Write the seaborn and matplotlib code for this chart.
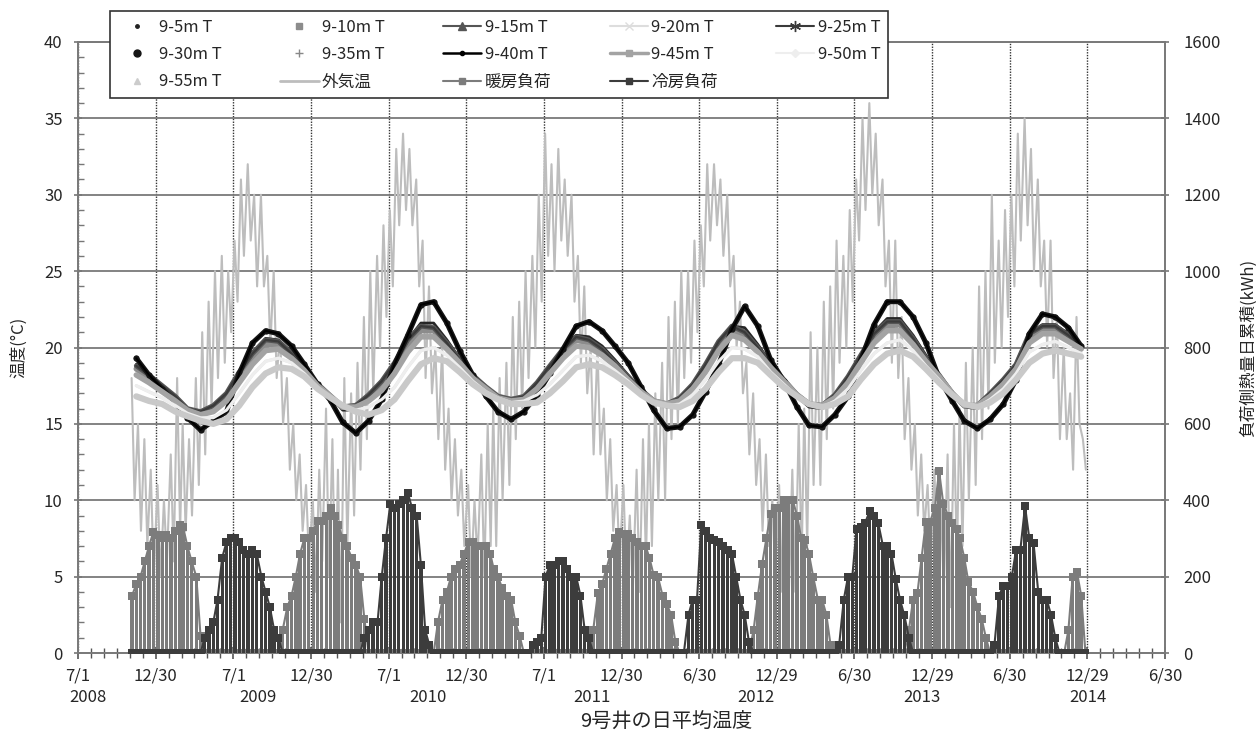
import pandas as pd
import matplotlib
matplotlib.use("Agg")
import matplotlib.pyplot as plt
import matplotlib.dates as mdates
from matplotlib.ticker import FixedLocator, MultipleLocator
from matplotlib.lines import Line2D
import seaborn as sns

sns.set_theme(style="white")
plt.rcParams['font.family'] = ['Noto Sans CJK JP', 'DejaVu Sans']
plt.rcParams['axes.unicode_minus'] = False

# ------------------------------------------------------------------ data
first_month = "2008-11-01"
n_months = 74          # Nov 2008 .. Dec 2014 (monthly well readings)

# well temperature profiles (deg C, monthly, Nov 2008 .. Dec 2014)
well_black = [19.3, 18.2,
              17.3, 16.4, 15.4, 14.6, 15.2, 15.8, 18.3, 20.3, 21.1, 20.9, 20.1, 18.9,
              17.6, 16.5, 15.1, 14.4, 15.2, 16.6, 18.9, 20.8, 22.8, 23.0, 21.6, 19.8,
              18.2, 16.8, 15.8, 15.3, 15.8, 16.9, 18.3, 19.9, 21.4, 21.7, 21.1, 20.1,
              19.0, 17.4, 15.9, 14.7, 14.8, 15.6, 17.1, 18.9, 21.2, 22.7, 21.4, 19.2,
              17.8, 16.1, 14.9, 14.8, 15.6, 16.8, 19.2, 21.5, 23.0, 23.0, 22.0, 20.3,
              18.0, 16.5, 15.2, 14.7, 15.3, 16.3, 17.9, 20.9, 22.2, 22.0, 21.3, 20.1]
well_dark_hi = [18.9, 18.2,
                17.5, 16.7, 15.9, 15.6, 16.0, 16.8, 18.4, 19.7, 20.6, 20.5, 19.7, 18.6,
                17.6, 16.8, 15.9, 15.9, 16.6, 17.6, 19.0, 20.5, 21.6, 21.6, 20.5, 19.3,
                18.2, 17.3, 16.6, 16.4, 16.7, 17.6, 18.7, 19.9, 20.8, 20.7, 20.1, 19.2,
                18.2, 17.2, 16.4, 16.1, 16.4, 17.3, 18.6, 20.2, 21.4, 21.3, 20.2, 19.0,
                17.9, 16.8, 16.1, 16.0, 16.7, 17.9, 19.5, 21.0, 21.9, 21.9, 20.8, 19.5,
                18.2, 16.9, 16.1, 16.0, 16.7, 17.7, 18.8, 20.9, 21.5, 21.5, 20.9, 20.1]
well_dark = [18.8, 18.2,
             17.5, 16.8, 16.0, 15.8, 16.2, 17.0, 18.4, 19.6, 20.5, 20.4, 19.6, 18.6,
             17.6, 16.8, 16.1, 16.2, 16.9, 17.8, 19.0, 20.5, 21.4, 21.3, 20.3, 19.2,
             18.2, 17.4, 16.8, 16.6, 16.8, 17.7, 18.8, 19.9, 20.7, 20.5, 19.9, 19.0,
             18.1, 17.2, 16.5, 16.3, 16.7, 17.6, 18.9, 20.4, 21.4, 21.0, 20.0, 18.9,
             17.9, 16.9, 16.3, 16.2, 16.9, 18.1, 19.5, 20.9, 21.7, 21.7, 20.6, 19.3,
             18.2, 17.0, 16.2, 16.2, 17.0, 17.9, 18.9, 20.9, 21.4, 21.4, 20.8, 20.1]
well_dark_lo = [18.6, 18.0,
                17.4, 16.7, 15.9, 15.7, 16.1, 16.8, 18.1, 19.3, 20.2, 20.2, 19.5, 18.5,
                17.6, 16.8, 16.1, 16.2, 16.7, 17.6, 18.7, 20.2, 21.1, 21.1, 20.2, 19.1,
                18.1, 17.4, 16.8, 16.6, 16.7, 17.5, 18.6, 19.6, 20.5, 20.3, 19.8, 18.9,
                18.0, 17.2, 16.5, 16.3, 16.6, 17.5, 18.7, 20.2, 21.1, 20.8, 19.9, 18.8,
                17.8, 16.9, 16.3, 16.2, 16.8, 17.9, 19.3, 20.7, 21.4, 21.5, 20.5, 19.2,
                18.1, 17.0, 16.2, 16.2, 16.9, 17.8, 18.8, 20.7, 21.2, 21.2, 20.7, 20.0]
well_mid = [18.2, 17.7,
            17.1, 16.5, 15.9, 15.6, 15.8, 16.5, 17.7, 18.9, 19.8, 19.9, 19.3, 18.5,
            17.5, 16.8, 16.1, 16.1, 16.5, 17.2, 18.3, 19.7, 20.7, 20.7, 19.9, 19.0,
            18.0, 17.3, 16.7, 16.5, 16.6, 17.3, 18.3, 19.3, 20.1, 20.0, 19.5, 18.8,
            17.9, 17.1, 16.5, 16.3, 16.5, 17.3, 18.4, 19.8, 20.8, 20.5, 19.7, 18.7,
            17.8, 16.9, 16.3, 16.2, 16.7, 17.7, 19.0, 20.3, 21.1, 21.1, 20.2, 19.1,
            18.1, 17.0, 16.2, 16.2, 16.8, 17.6, 18.6, 20.3, 20.9, 20.9, 20.4, 19.9]
well_light = [17.5, 17.1,
              16.7, 16.2, 15.7, 15.4, 15.4, 15.9, 17.0, 18.2, 19.1, 19.3, 19.0, 18.3,
              17.4, 16.7, 16.2, 15.9, 16.1, 16.6, 17.4, 18.7, 19.8, 20.0, 19.5, 18.7,
              17.8, 17.1, 16.7, 16.4, 16.5, 16.9, 17.6, 18.5, 19.4, 19.5, 19.1, 18.5,
              17.8, 17.0, 16.4, 16.2, 16.3, 16.9, 17.9, 19.1, 20.0, 19.9, 19.4, 18.4,
              17.6, 16.8, 16.3, 16.1, 16.5, 17.3, 18.5, 19.6, 20.3, 20.5, 19.8, 18.8,
              17.9, 16.9, 16.3, 16.1, 16.6, 17.3, 18.3, 19.7, 20.2, 20.4, 20.0, 19.6]
well_pale = [16.8, 16.5,
             16.3, 15.8, 15.5, 15.2, 15.0, 15.3, 16.2, 17.4, 18.3, 18.7, 18.6, 18.1,
             17.3, 16.7, 16.2, 15.8, 15.6, 15.9, 16.6, 17.8, 18.9, 19.3, 19.1, 18.4,
             17.6, 17.0, 16.6, 16.3, 16.3, 16.4, 17.0, 17.8, 18.7, 18.9, 18.7, 18.2,
             17.6, 16.9, 16.4, 16.2, 16.1, 16.5, 17.3, 18.4, 19.3, 19.3, 19.0, 18.2,
             17.4, 16.8, 16.3, 16.1, 16.3, 16.8, 17.9, 18.9, 19.6, 19.8, 19.4, 18.6,
             17.7, 16.9, 16.3, 16.1, 16.4, 17.0, 17.9, 19.0, 19.6, 19.8, 19.6, 19.4]

well_labels = ['9-5m T', '9-10m T', '9-15m T', '9-20m T', '9-25m T', '9-30m T',
               '9-35m T', '9-40m T', '9-45m T', '9-50m T', '9-55m T']
well_profiles = [well_dark_hi, well_dark_lo, well_dark, well_light, well_dark, well_black,
                 well_mid, well_black, well_mid, well_light, well_pale]

# outdoor air temperature (deg C): four readings per month
outdoor_temp = [18, 10, 15, 8, 14, 7, 12, 5,
                11, 5, 10, 6, 13, 6, 18, 8, 15, 8, 14, 9, 18, 11, 21, 13,
                23, 16, 25, 18, 26, 19, 25, 21, 27, 23, 31, 26, 32, 27, 30, 24,
                30, 24, 26, 20, 25, 18, 21, 15, 18, 12, 15, 10, 13, 8, 11, 6,
                10, 4, 12, 6, 16, 5, 14, 3, 12, 2, 18, 7, 17, 9, 19, 12,
                22, 14, 25, 17, 26, 20, 28, 22, 29, 24, 33, 28, 34, 29, 33, 28,
                31, 24, 27, 18, 24, 17, 20, 14, 20, 12, 16, 10, 14, 9, 12, 7,
                11, 5, 10, 6, 13, 5, 15, 7, 16, 7, 18, 10, 19, 11, 22, 14,
                23, 16, 25, 18, 26, 20, 30, 23, 34, 26, 32, 25, 33, 27, 31, 26,
                30, 23, 26, 19, 24, 17, 20, 13, 20, 13, 16, 10, 14, 8, 11, 6,
                11, 5, 9, 4, 12, 4, 14, 6, 15, 7, 17, 10, 19, 10, 22, 14,
                23, 15, 25, 18, 25, 19, 27, 21, 28, 24, 32, 27, 32, 28, 31, 26,
                30, 24, 26, 20, 23, 17, 19, 13, 17, 11, 14, 8, 13, 7, 10, 5,
                11, 4, 9, 3, 12, 4, 15, 6, 16, 7, 21, 11, 20, 11, 23, 14,
                24, 16, 27, 19, 26, 20, 29, 23, 31, 27, 35, 29, 36, 30, 34, 28,
                31, 24, 27, 19, 27, 18, 22, 14, 18, 12, 15, 9, 13, 8, 11, 6,
                12, 5, 10, 4, 13, 3, 15, 6, 16, 7, 19, 10, 20, 11, 24, 14,
                25, 16, 30, 19, 27, 20, 29, 22, 30, 24, 34, 27, 35, 28, 33, 25,
                31, 24, 27, 20, 27, 18, 22, 14, 20, 14, 17, 12, 22, 15, 14, 12]

# daily heat quantities (kWh): three readings per month (dekads)
heat_load = [150, 180, 200, 240, 280, 316,
             308, 300, 310, 300, 320, 336, 330, 280, 240, 200, 45, 0, 0, 0, 0, 0, 0, 0,
             0, 0, 0, 0, 0, 0, 0, 0, 0, 0, 0, 60, 120, 150, 200, 260, 300, 300,
             320, 345, 345, 360, 380, 360, 335, 300, 280, 250, 230, 200, 90, 0, 0, 0, 0, 0,
             0, 0, 0, 0, 0, 0, 0, 0, 0, 0, 0, 80, 140, 160, 200, 220, 230, 260,
             290, 290, 280, 280, 280, 260, 220, 200, 170, 150, 140, 80, 45, 0, 0, 0, 0, 0,
             0, 0, 0, 0, 0, 0, 0, 0, 0, 0, 0, 60, 156, 180, 220, 260, 300, 316,
             312, 312, 300, 290, 280, 280, 250, 204, 200, 150, 128, 100, 30, 0, 0, 0, 0, 0,
             0, 0, 0, 0, 0, 0, 0, 0, 0, 0, 0, 0, 60, 150, 232, 300, 364, 380,
             380, 400, 400, 400, 360, 300, 297, 260, 200, 140, 140, 100, 20, 0, 0, 0, 0, 0,
             0, 0, 0, 0, 0, 0, 0, 0, 0, 0, 0, 0, 60, 140, 156, 250, 344, 344,
             380, 476, 390, 360, 340, 325, 300, 250, 185, 160, 120, 90, 40, 0, 0, 0, 0, 0,
             0, 0, 0, 0, 0, 0, 0, 0, 0, 0, 0, 0, 0, 60, 200, 212, 150, 0]
cool_load = [0, 0, 0, 0, 0, 0,
             0, 0, 0, 0, 0, 0, 0, 0, 0, 0, 0, 40, 60, 80, 140, 250, 290, 300,
             300, 290, 270, 260, 270, 260, 200, 160, 120, 60, 40, 0, 0, 0, 0, 0, 0, 0,
             0, 0, 0, 0, 0, 0, 0, 0, 0, 0, 0, 0, 40, 60, 80, 80, 200, 300,
             390, 380, 390, 400, 420, 380, 360, 230, 60, 20, 0, 0, 0, 0, 0, 0, 0, 0,
             0, 0, 0, 0, 0, 0, 0, 0, 0, 0, 0, 0, 0, 0, 0, 20, 30, 40,
             200, 230, 230, 240, 240, 220, 200, 200, 150, 60, 40, 0, 0, 0, 0, 0, 0, 0,
             0, 0, 0, 0, 0, 0, 0, 0, 0, 0, 0, 0, 0, 0, 0, 100, 140, 140,
             336, 320, 300, 297, 290, 280, 270, 260, 200, 140, 100, 30, 0, 0, 0, 0, 0, 0,
             0, 0, 0, 0, 0, 0, 0, 0, 0, 0, 0, 0, 0, 0, 20, 140, 200, 200,
             325, 330, 340, 372, 360, 340, 280, 280, 260, 195, 140, 100, 40, 0, 0, 0, 0, 0,
             0, 0, 0, 0, 0, 0, 0, 0, 0, 0, 0, 0, 0, 0, 20, 150, 176, 176,
             200, 270, 270, 384, 300, 288, 160, 140, 140, 100, 40, 0, 0, 0, 0, 0, 0, 0]

x_tick_labels = ['7/1', '12/30', '7/1', '12/30', '7/1', '12/30', '7/1', '12/30',
                 '6/30', '12/29', '6/30', '12/29', '6/30', '12/29', '6/30']
year_labels = ['2008', '2009', '2010', '2011', '2012', '2013', '2014']

# ------------------------------------------------------------------ dates
months = pd.date_range(first_month, periods=n_months, freq='MS')
well_dates = months + pd.Timedelta(days=14)
out_dates = pd.DatetimeIndex([m + pd.Timedelta(days=d) for m in months for d in (3, 10, 18, 25)])
load_dates = pd.DatetimeIndex([m + pd.Timedelta(days=d) for m in months for d in (4, 14, 24)])

axis_start = pd.Timestamp('2008-07-01')
major_pos = [mdates.date2num(axis_start + pd.Timedelta(days=182.5 * i)) for i in range(15)]
minor_pos = [mdates.date2num(axis_start + pd.Timedelta(days=182.5 / 6 * i)) for i in range(85)]

# ------------------------------------------------------------------ styles
well_styles = [
    dict(color='#262626', lw=2.0),
    dict(color='#8c8c8c', lw=4.0),
    dict(color='#555555', lw=3.5),
    dict(color='#e2e2e2', lw=2.2),
    dict(color='#3a3a3a', lw=1.6),
    dict(color='#151515', lw=3.6, marker='o', ms=4.5),
    dict(color='#9a9a9a', lw=2.0),
    dict(color='#000000', lw=1.4),
    dict(color='#a3a3a3', lw=4.0),
    dict(color='#eeeeee', lw=2.2),
    dict(color='#c9c9c9', lw=4.5),
]
heat_color = '#7c7c7c'
cool_color = '#3c3c3c'
out_color = '#bdbdbd'

# ------------------------------------------------------------------ figure
fig = plt.figure(figsize=(12.56, 7.40), dpi=100)
ax = fig.add_axes([78 / 1256, 1 - 653 / 740, (1165 - 78) / 1256, (653 - 42) / 740])
ax2 = ax.twinx()

sns.lineplot(x=out_dates, y=outdoor_temp, ax=ax, color=out_color, linewidth=1.5,
             legend=False, zorder=2)
for prof, st in zip(well_profiles, well_styles):
    kw = dict(color=st['color'], linewidth=st['lw'], legend=False, zorder=3)
    if 'marker' in st:
        kw.update(marker=st['marker'], markersize=st['ms'], markeredgewidth=0)
    sns.lineplot(x=well_dates, y=prof, ax=ax, **kw)

ax2.bar(load_dates, heat_load, width=8.0, color=heat_color, linewidth=0, zorder=2)
sns.lineplot(x=load_dates, y=heat_load, ax=ax2, color=heat_color, linewidth=1.5,
             marker='s', markersize=6, markeredgewidth=0, legend=False, zorder=3)
ax2.bar(load_dates, cool_load, width=8.0, color=cool_color, linewidth=0, zorder=4)
sns.lineplot(x=load_dates, y=cool_load, ax=ax2, color=cool_color, linewidth=1.5,
             marker='s', markersize=6, markeredgewidth=0, legend=False, zorder=5)

# axes ranges & ticks
ax.set_xlim(major_pos[0], major_pos[-1])
ax.set_ylim(0, 40)
ax2.set_ylim(0, 1600)
ax.yaxis.set_major_locator(MultipleLocator(5))
ax.yaxis.set_minor_locator(MultipleLocator(1))
ax2.yaxis.set_major_locator(MultipleLocator(200))
ax.xaxis.set_major_locator(FixedLocator(major_pos))
ax.xaxis.set_minor_locator(FixedLocator(minor_pos))
ax.set_xticklabels(x_tick_labels)

ax.tick_params(axis='x', which='major', direction='inout', length=9, width=1.2,
               color='#555555', labelsize=12, pad=6, bottom=True)
ax.tick_params(axis='x', which='minor', direction='inout', length=7, width=1.0,
               color='#555555', bottom=True)
ax.tick_params(axis='y', which='major', direction='inout', length=6, width=1.2,
               color='#777777', labelsize=12, pad=8, left=True)
ax.tick_params(axis='y', which='minor', direction='in', length=4, width=1.0,
               color='#777777', left=True)
ax2.tick_params(axis='y', which='major', direction='inout', length=6, width=1.2,
                color='#777777', labelsize=12, pad=10, right=True)

ax.grid(False)
ax2.grid(False)
ax.yaxis.grid(True, which='major', color='#7a7a7a', linewidth=1.3)
ax.xaxis.grid(True, which='major', color='#333333', linewidth=1.0, linestyle=(0, (1, 1)))
ax.set_axisbelow(True)
for a in (ax, ax2):
    for sp in a.spines.values():
        sp.set_color('#7a7a7a')
        sp.set_linewidth(1.3)

ax.set_xlabel('')
ax.set_ylabel('温度(°C)', fontsize=12, labelpad=12)
ax2.set_ylabel('負荷側熱量日累積(kWh)', fontsize=12, labelpad=14)

year_x = [88, 258, 428, 592, 756, 922, 1088]
for yl, xp in zip(year_labels, year_x):
    fig.text(xp / 1256, 1 - 698 / 740, yl, ha='center', va='center', fontsize=12)
fig.text(666 / 1256, 1 - 721 / 740, '9号井の日平均温度', ha='center', va='center', fontsize=14.5)

# legend (column-major order to reproduce the row layout of the original)
def H(color, ls='-', marker=None, ms=6, lw=1.5):
    return Line2D([], [], color=color, linestyle=ls, marker=marker, markersize=ms,
                  linewidth=lw, markerfacecolor=color, markeredgecolor=color)

handles = {
    '9-5m T': H('#222222', 'none', '.', 5),
    '9-10m T': H('#8c8c8c', 'none', 's', 5),
    '9-15m T': H('#555555', '-', '^', 6),
    '9-20m T': H('#dddddd', '-', 'x', 6),
    '9-25m T': H('#3a3a3a', '-', (6, 2, 0), 8),
    '9-30m T': H('#151515', 'none', 'o', 5),
    '9-35m T': H('#888888', 'none', '+', 6),
    '9-40m T': H('#000000', '-', 'o', 3, 1.8),
    '9-45m T': H('#a3a3a3', '-', 's', 4, 2.5),
    '9-50m T': H('#eeeeee', '-', 'D', 4),
    '9-55m T': H('#cccccc', 'none', '^', 4),
    '外気温': H(out_color, '-', None, 6, 2.0),
    '暖房負荷': H(heat_color, '-', 's', 4),
    '冷房負荷': H(cool_color, '-', 's', 4),
}
order = ['9-5m T', '9-30m T', '9-55m T',
         '9-10m T', '9-35m T', '外気温',
         '9-15m T', '9-40m T', '暖房負荷',
         '9-20m T', '9-45m T', '冷房負荷',
         '9-25m T', '9-50m T']
leg = fig.legend([handles[k] for k in order], order, ncol=5, loc='lower left',
                 bbox_to_anchor=(110 / 1256, 1 - 98 / 740, 778 / 1256, 86 / 740),
                 mode='expand', frameon=True, fancybox=False, edgecolor='#333333',
                 framealpha=1, fontsize=12, handlelength=2.3, borderaxespad=0,
                 labelspacing=0.62, borderpad=0.45, handletextpad=0.2)
leg.get_frame().set_linewidth(1.2)

fig.savefig('out.png', dpi=100)
